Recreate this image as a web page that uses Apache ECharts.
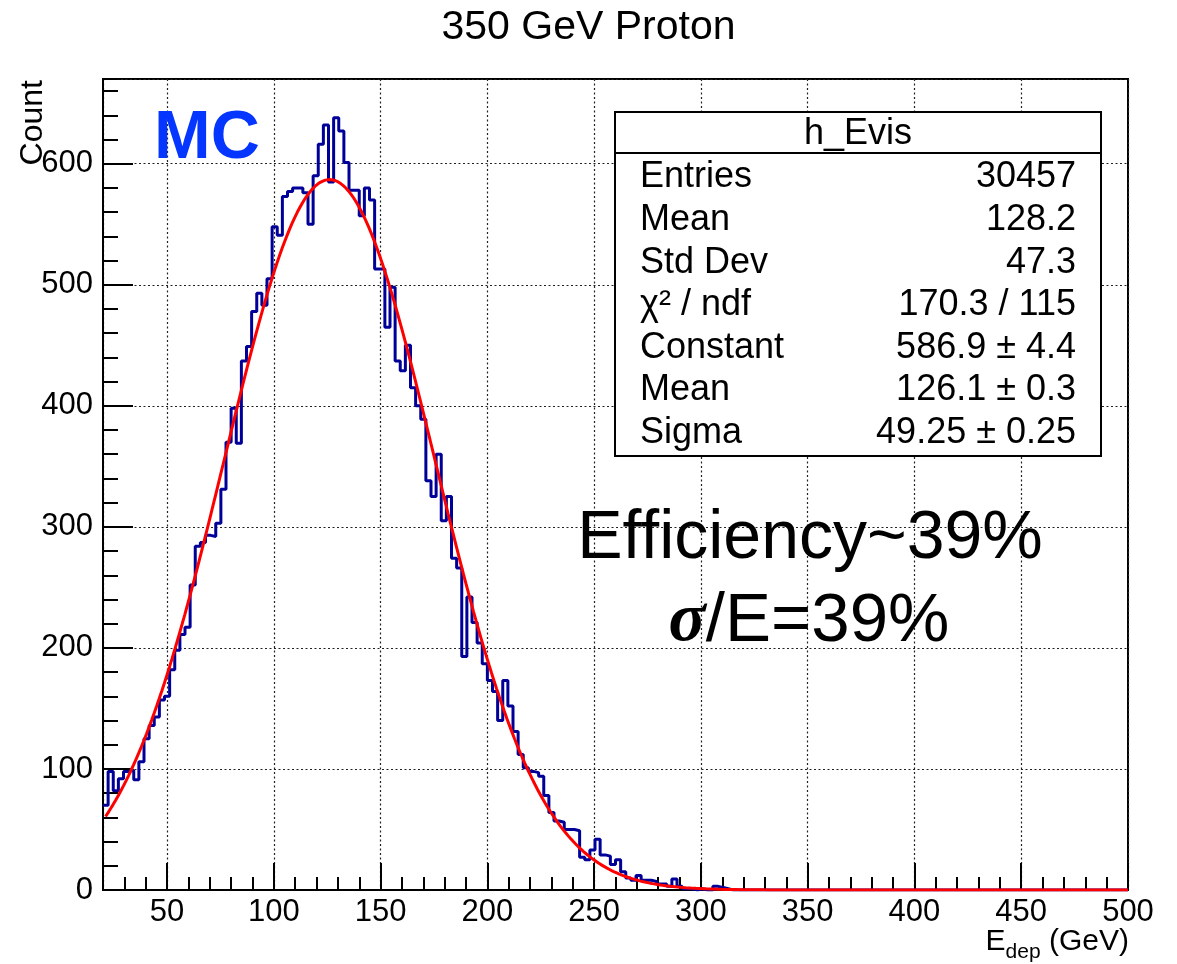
<!DOCTYPE html>
<html>
<head>
<meta charset="utf-8">
<title>350 GeV Proton</title>
<script src="https://cdn.jsdelivr.net/npm/echarts@6.0.0/dist/echarts.min.js"></script>
<style>
  html, body { margin: 0; padding: 0; background: #ffffff; }
  #chart { width: 1177px; height: 964px; }
</style>
</head>
<body>
<div id="chart"></div>
<script>
// h_Evis: deposited energy, 200 bins of 2.4 GeV between 20 and 500 GeV
const binLow = 20;
const binWidth = 2.4;
const counts = [
   70,  98,  82,  92,  98,  99,  91, 106, 125, 136,
  143, 157, 160, 182, 198, 211, 217, 252, 284, 287,
  293, 292, 303, 331, 370, 398, 369, 437, 449, 478,
  493, 483, 505, 548, 541, 573, 577, 580, 580, 576,
  550, 590, 616, 632, 585, 638, 627, 601, 578, 578,
  557, 580, 570, 513, 513, 465, 498, 437, 429, 450,
  415, 400, 389, 338, 325, 360, 305, 325, 274, 266,
  193, 242, 221, 204, 187, 173, 164, 140, 173, 152,
  131, 112, 101,  98,  97,  94,  78,  64,  57,  56,
   50,  50,  49,  27,  25,  33,  42,  29,  28,  21,
   25,  15,  10,   8,  12,   8,   8,   7,   5,   5,
    3,   9,   3,   1,   1,   0,   1,   0,   0,   3,
    2,   1,   0,   0,   0,   0,   0,   0,   0,   0,
    0,   0,   0,   0,   0,   0,   0,   0,   0,   0,
    0,   0,   0,   0,   0,   0,   0,   0,   0,   0,
    0,   0,   0,   0,   0,   0,   0,   0,   0,   0,
    0,   0,   0,   0,   0,   0,   0,   0,   0,   0,
    0,   0,   0,   0,   0,   0,   0,   0,   0,   0,
    0,   0,   0,   0,   0,   0,   0,   0,   0,   0,
    0,   0,   0,   0,   0,   0,   0,   0,   0,   0
];

// Histogram statistics
const entries = 30457;
const histMean = 128.2;
const histStdDev = 47.3;

// Gaussian fit result
const fitChi2 = 170.3;
const fitNdf = 115;
const fitConstant = 586.9, fitConstantErr = 4.4;
const fitMean = 126.1, fitMeanErr = 0.3;
const fitSigma = 49.25, fitSigmaErr = 0.25;
const fitRange = [21.2, 500];
const fitSamples = 400;

// Axis ranges
const xRange = [20, 500];
const yRange = [0, 670];

const titleText = '350 GeV Proton';
const sampleTag = 'MC';
const noteLines = ['Efficiency~39%', '39%'];

const FONT = "'Liberation Sans', Arial, Helvetica, sans-serif";

// Step outline: one point per lower bin edge plus the upper edge of the last bin
const histPoints = counts.map((c, i) => [+(binLow + i * binWidth).toFixed(4), c]);
histPoints.push([+(binLow + counts.length * binWidth).toFixed(4), counts[counts.length - 1]]);

// Fitted gaussian sampled over the fit range
const gauss = x => fitConstant * Math.exp(-0.5 * Math.pow((x - fitMean) / fitSigma, 2));
const fitPoints = [];
for (let k = 0; k <= fitSamples; k++) {
  const x = fitRange[0] + (fitRange[1] - fitRange[0]) * k / fitSamples;
  fitPoints.push([x, gauss(x)]);
}

// Stats box rows
const statsRows = [
  ['Entries', String(entries)],
  ['Mean', histMean.toFixed(1)],
  ['Std Dev', histStdDev.toFixed(1)],
  ['\u03c7\u00b2 / ndf', fitChi2.toFixed(1) + ' / ' + fitNdf],
  ['Constant', fitConstant.toFixed(1) + ' \u00b1 ' + fitConstantErr.toFixed(1)],
  ['Mean', fitMean.toFixed(1) + ' \u00b1 ' + fitMeanErr.toFixed(1)],
  ['Sigma', fitSigma.toFixed(2) + ' \u00b1 ' + fitSigmaErr.toFixed(2)]
];

const box = { x: 615, y: 112, w: 486, h: 344, head: 41 };
const rowTop = 177.5, rowStep = 42.6;
const statsFont = 36;

const graphics = [
  { type: 'rect', z: 50, shape: { x: box.x, y: box.y, width: box.w, height: box.h },
    style: { fill: '#ffffff', stroke: '#000000', lineWidth: 2 } },
  { type: 'line', z: 51, shape: { x1: box.x, y1: box.y + box.head, x2: box.x + box.w, y2: box.y + box.head },
    style: { stroke: '#000000', lineWidth: 2 } },
  { type: 'text', z: 52, x: box.x + box.w / 2, y: box.y + 22,
    style: { text: 'h_Evis', fill: '#000', fontFamily: FONT, fontSize: statsFont, align: 'center', verticalAlign: 'middle' } }
];
statsRows.forEach((row, k) => {
  const y = rowTop + k * rowStep;
  graphics.push({ type: 'text', z: 52, x: 640, y: y,
    style: { text: row[0], fill: '#000', fontFamily: FONT, fontSize: statsFont, align: 'left', verticalAlign: 'middle' } });
  graphics.push({ type: 'text', z: 52, x: 1076, y: y,
    style: { text: row[1], fill: '#000', fontFamily: FONT, fontSize: statsFont, align: 'right', verticalAlign: 'middle' } });
});

graphics.push(
  { type: 'text', z: 52, x: 154, y: 139,
    style: { text: sampleTag, fill: '#0536ff', fontFamily: FONT, fontWeight: 'bold', fontSize: 68,
             align: 'left', verticalAlign: 'middle' } },
  { type: 'text', z: 52, x: 810, y: 539,
    style: { text: noteLines[0], fill: '#000', fontFamily: FONT, fontSize: 68,
             align: 'center', verticalAlign: 'middle' } },
  { type: 'text', z: 52, x: 809, y: 622,
    style: { text: '{s|\u03c3}{t|/E=' + noteLines[1] + '}', align: 'center', verticalAlign: 'middle',
             rich: {
               s: { fontFamily: "'Liberation Serif', 'DejaVu Serif', serif", fontStyle: 'italic', fontWeight: 'bold', fontSize: 69, fill: '#000' },
               t: { fontFamily: FONT, fontSize: 69, fill: '#000' }
             } } },
  { type: 'text', z: 52, x: 33, y: 80, rotation: Math.PI / 2,
    style: { text: 'Count', fill: '#000', fontFamily: FONT, fontSize: 32, align: 'right', verticalAlign: 'middle' } },
  { type: 'text', z: 52, x: 1129, y: 942,
    style: { text: '{e|E}{d|dep}{e| (GeV)}', align: 'right', verticalAlign: 'middle',
             rich: {
               e: { fontFamily: FONT, fontSize: 30, fill: '#000' },
               d: { fontFamily: FONT, fontSize: 21, fill: '#000', padding: [20, 0, 0, 0] }
             } } }
);

const gridLine = { show: true, lineStyle: { color: '#222', width: 1.2, type: [2, 2.5] } };
const axisBlack = { show: true, onZero: false, lineStyle: { color: '#000', width: 2 } };

const option = {
  animation: false,
  backgroundColor: '#ffffff',
  title: {
    text: titleText, left: 'center', top: 7, padding: 0,
    textStyle: { fontFamily: FONT, fontSize: 41, fontWeight: 'normal', color: '#000' }
  },
  grid: {
    left: 103, right: 49, top: 79, bottom: 74,
    show: true, borderColor: '#000', borderWidth: 2, backgroundColor: '#ffffff',
    containLabel: false, outerBoundsMode: 'none'
  },
  xAxis: [
    { // major ticks every 50 GeV, labelled
      type: 'value', min: xRange[0], max: xRange[1], splitNumber: 10, position: 'bottom',
      axisLine: axisBlack,
      axisTick: { show: true, inside: true, length: 27, lineStyle: { color: '#000', width: 2 } },
      axisLabel: { show: true, showMinLabel: false, margin: 7, color: '#000', fontFamily: FONT, fontSize: 31 },
      splitLine: gridLine
    },
    { // minor ticks every 10 GeV
      type: 'value', min: xRange[0], max: xRange[1], interval: 10, position: 'bottom',
      axisLine: { show: false },
      axisTick: { show: true, inside: true, length: 13, lineStyle: { color: '#000', width: 2 } },
      axisLabel: { show: false }, splitLine: { show: false }
    }
  ],
  yAxis: [
    { // major ticks every 100 counts, labelled
      type: 'value', min: yRange[0], max: yRange[1], interval: 100, position: 'left',
      axisLine: axisBlack,
      axisTick: { show: true, inside: true, length: 30, lineStyle: { color: '#000', width: 2 } },
      axisLabel: { show: true, showMaxLabel: false, margin: 10, color: '#000', fontFamily: FONT, fontSize: 31 },
      splitLine: gridLine
    },
    { // minor ticks every 20 counts
      type: 'value', min: yRange[0], max: yRange[1], interval: 20, position: 'left',
      axisLine: { show: false },
      axisTick: { show: true, inside: true, length: 15, lineStyle: { color: '#000', width: 2 } },
      axisLabel: { show: false }, splitLine: { show: false }
    }
  ],
  series: [
    {
      name: 'h_Evis', type: 'line', xAxisIndex: 0, yAxisIndex: 0,
      data: histPoints, step: 'end', symbol: 'none', silent: true, z: 3,
      lineStyle: { color: '#000099', width: 3 }
    },
    {
      name: 'gaus', type: 'line', xAxisIndex: 0, yAxisIndex: 0,
      data: fitPoints, symbol: 'none', smooth: false, silent: true, z: 4,
      lineStyle: { color: '#ff0000', width: 3 }
    }
  ],
  graphic: graphics
};

const chart = echarts.init(document.getElementById('chart'), null, { renderer: 'canvas' });
chart.setOption(option);
</script>
</body>
</html>
